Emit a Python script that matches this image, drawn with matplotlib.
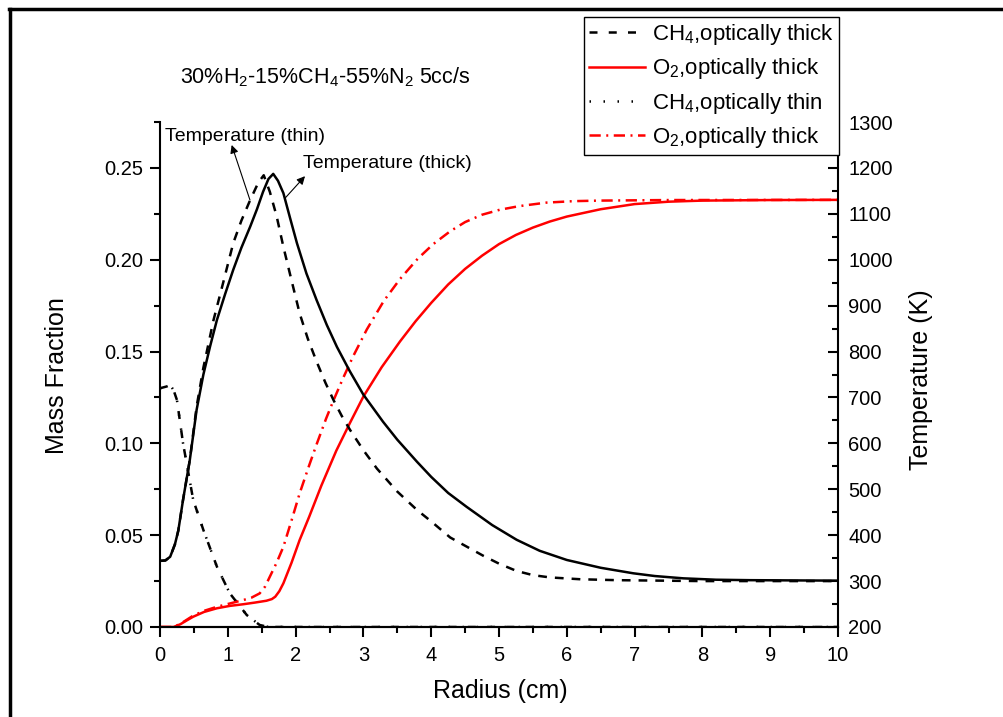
import matplotlib
matplotlib.use("Agg")
import matplotlib.pyplot as plt
from matplotlib.lines import Line2D
from matplotlib.ticker import MultipleLocator, FormatStrFormatter

plt.rcParams['font.family'] = ['Liberation Sans', 'DejaVu Sans']
plt.rcParams['mathtext.fontset'] = 'custom'
plt.rcParams['mathtext.rm'] = 'Liberation Sans'
plt.rcParams['mathtext.it'] = 'Liberation Sans:italic'
plt.rcParams['mathtext.bf'] = 'Liberation Sans:bold'

# ---------------- data ----------------
r_ch4 = [0.0, 0.1, 0.15, 0.2, 0.25, 0.34, 0.49, 0.64, 0.84, 1.03, 1.28, 1.47, 1.6, 10.0]
ch4_thick = [0.130, 0.131, 0.1318, 0.129, 0.1236, 0.100, 0.0692, 0.0528, 0.0328, 0.0183, 0.0065, 0.0011, 0.0, 0.0]
ch4_thin = [0.130, 0.131, 0.1318, 0.129, 0.1236, 0.100, 0.0692, 0.0528, 0.0328, 0.0183, 0.0065, 0.0011, 0.0, 0.0]

r_o2_thick = [0.0, 0.2, 0.3, 0.4, 0.49, 0.65, 0.84, 1.03, 1.23, 1.4, 1.57, 1.65, 1.70, 1.76, 1.82,
              1.94, 2.06, 2.2, 2.38, 2.6, 2.8, 3.0, 3.27, 3.54, 3.77, 4.0, 4.25, 4.5, 4.75,
              5.0, 5.25, 5.5, 5.75, 6.0, 6.5, 7.0, 7.5, 8.0, 9.0, 10.0]
o2_thick = [0.0, 0.0, 0.0015, 0.0037, 0.0056, 0.0082, 0.0102, 0.0115, 0.0124, 0.0133, 0.0143,
            0.0152, 0.0165, 0.0195, 0.0238, 0.035, 0.0474, 0.060, 0.077, 0.096, 0.111, 0.1255,
            0.1415, 0.1555, 0.1665, 0.1765, 0.1865, 0.1950, 0.2022, 0.2085, 0.2135, 0.2175,
            0.2208, 0.2235, 0.2275, 0.2303, 0.2316, 0.2322, 0.2325, 0.2326]

r_o2_thin = [0.0, 0.2, 0.3, 0.49, 0.65, 0.84, 1.03, 1.23, 1.35, 1.47, 1.55, 1.62, 1.72, 1.82,
             1.94, 2.06, 2.2, 2.31, 2.45, 2.56, 2.70, 2.85, 3.05, 3.3, 3.54, 3.8, 4.03, 4.28,
             4.5, 4.75, 5.01, 5.3, 5.7, 6.1, 6.49, 7.5, 10.0]
o2_thin = [0.0, 0.0, 0.0017, 0.0062, 0.0088, 0.011, 0.0128, 0.0147, 0.016, 0.0183, 0.022,
           0.0274, 0.035, 0.0437, 0.058, 0.0728, 0.088, 0.0995, 0.1135, 0.1235, 0.1355, 0.1475,
           0.1620, 0.1775, 0.1895, 0.2005, 0.2085, 0.2155, 0.2205, 0.2245, 0.2272, 0.2292,
           0.2311, 0.2319, 0.2322, 0.2325, 0.2326]

r_T_thick = [0.0, 0.08, 0.15, 0.22, 0.27, 0.34, 0.44, 0.54, 0.64, 0.74, 0.84, 0.96, 1.08, 1.2,
             1.33, 1.43, 1.52, 1.60, 1.67, 1.74, 1.82, 1.92, 2.02, 2.16, 2.31, 2.46, 2.61,
             2.8, 3.0, 3.29, 3.5, 3.79, 4.0, 4.25, 4.52, 4.9, 5.26, 5.6, 6.0, 6.5, 6.98,
             7.3, 7.72, 8.2, 8.7, 10.0]
T_thick = [344, 345, 353, 380, 410, 477, 564, 673, 750, 812, 869, 925, 978, 1026,
           1072, 1110, 1148, 1176, 1187, 1172, 1145, 1090, 1036, 970, 912, 858, 810,
           757, 706, 647, 608, 560, 527, 492, 462, 422, 390, 366, 346, 329, 317,
           311, 306, 303, 302, 301]

r_T_thin = [0.0, 0.08, 0.15, 0.22, 0.27, 0.34, 0.44, 0.54, 0.64, 0.79, 0.93, 1.08, 1.2, 1.33,
            1.45, 1.53, 1.62, 1.72, 1.82, 1.94, 2.06, 2.18, 2.31, 2.44, 2.56, 2.68, 2.80,
            3.0, 3.2, 3.5, 3.79, 4.0, 4.28, 4.5, 4.77, 5.0, 5.26, 5.5, 5.75, 6.2, 6.74,
            8.0, 10.0]
T_thin = [344, 345, 353, 380, 410, 477, 564, 680, 765, 869, 949, 1036, 1085, 1130,
          1168, 1184, 1148, 1095, 1028, 955, 883, 828, 778, 732, 694, 660, 630,
          585, 545, 495, 455, 430, 395, 377, 355, 338, 322, 313, 308, 304, 302,
          300, 300]

legend_labels = ["CH$_\\mathregular{4}$,optically thick",
                 "O$_\\mathregular{2}$,optically thick",
                 "CH$_\\mathregular{4}$,optically thin",
                 "O$_\\mathregular{2}$,optically thick"]
title_text = "30%H$_\\mathregular{2}$-15%CH$_\\mathregular{4}$-55%N$_\\mathregular{2}$ 5cc/s"

# ---------------- figure ----------------
W, H = 1004, 717
fig = plt.figure(figsize=(W / 100, H / 100), dpi=100)
ax = fig.add_axes([160 / W, 1 - 627 / H, (838 - 160) / W, (627 - 122) / H])
ax2 = ax.twinx()

lw = 1.8
l1, = ax.plot(r_ch4, ch4_thick, color='black', lw=lw, dashes=(3.2, 4.5))
l2, = ax.plot(r_o2_thick, o2_thick, color='red', lw=lw)
l3, = ax.plot(r_ch4, ch4_thin, color='black', lw=lw, dashes=(0.6, 5))
l4, = ax.plot(r_o2_thin, o2_thin, color='red', lw=lw, dashes=(4.5, 2.2, 0.8, 2.2))

ax2.plot(r_T_thick, T_thick, color='black', lw=lw)
ax2.plot(r_T_thin, T_thin, color='black', lw=lw, dashes=(3.5, 3.2))

ax.set_xlim(0, 10)
ax.set_ylim(0, 0.275)
ax2.set_ylim(200, 1300)

for a in (ax, ax2):
    a.spines['top'].set_visible(False)
    for s in a.spines.values():
        s.set_linewidth(1.5)
ax.spines['right'].set_visible(False)
ax2.spines['left'].set_visible(False)

ax.xaxis.set_major_locator(MultipleLocator(1))
ax.xaxis.set_minor_locator(MultipleLocator(0.5))
ax.yaxis.set_major_locator(MultipleLocator(0.05))
ax.yaxis.set_minor_locator(MultipleLocator(0.025))
ax.yaxis.set_major_formatter(FormatStrFormatter('%.2f'))
ax2.yaxis.set_major_locator(MultipleLocator(100))
ax2.yaxis.set_minor_locator(MultipleLocator(50))

ax.tick_params(axis='both', which='major', direction='out', length=7, width=1.5, labelsize=14.5)
ax.tick_params(axis='y', which='major', pad=5)
ax.tick_params(axis='x', which='major', pad=7)
ax.tick_params(axis='both', which='minor', direction='out', length=4, width=1.5)
ax2.tick_params(axis='y', which='major', direction='in', length=7, width=1.5, labelsize=14.5, pad=7.5)
ax2.tick_params(axis='y', which='minor', direction='in', length=4, width=1.5)

ax.set_xlabel("Radius (cm)", fontsize=18)
ax.set_ylabel("Mass Fraction", fontsize=18)
ax2.set_ylabel("Temperature (K)", fontsize=18)
for lab in (ax.xaxis.label, ax.yaxis.label, ax2.yaxis.label):
    lab.set_va('center')
    lab.set_ha('center')
ax.xaxis.set_label_coords((500 - 160) / (838 - 160), -(691 - 627) / (627 - 122))
ax.yaxis.set_label_coords(-(160 - 57) / (838 - 160), (627 - 376) / (627 - 122))
ax2.yaxis.set_label_coords((921 - 160) / (838 - 160), (627 - 380) / (627 - 122))

fig.text(325 / W, 1 - 83 / H, title_text, ha='center', va='baseline', fontsize=15.5)

# annotations (on temperature axis)
ax2.annotate("", xy=(1.057, 1250), xytext=(1.327, 1130),
             arrowprops=dict(arrowstyle='-|>', color='black', lw=0.8, mutation_scale=12,
                             shrinkA=0, shrinkB=0))
ax2.annotate("", xy=(2.139, 1182), xytext=(1.844, 1134),
             arrowprops=dict(arrowstyle='-|>', color='black', lw=0.8, mutation_scale=12,
                             shrinkA=0, shrinkB=0))
ax2.text(0.074, 1258, "Temperature (thin)", fontsize=14, ha='left', va='baseline')
ax2.text(2.109, 1200, "Temperature (thick)", fontsize=14, ha='left', va='baseline')

leg = ax2.legend([l1, l2, l3, l4], legend_labels, loc='upper right',
                 bbox_to_anchor=(839 / W, 1 - 17 / H), bbox_transform=fig.transFigure,
                 fontsize=16, frameon=True, fancybox=False, framealpha=1,
                 edgecolor='black', handlelength=2.5, handletextpad=0.3,
                 labelspacing=0.42, borderpad=0.23, borderaxespad=0)
leg.get_frame().set_linewidth(1.0)

# figure border lines (top and left)
fig.add_artist(Line2D([9 / W, 1.0], [1 - 9 / H, 1 - 9 / H], transform=fig.transFigure,
                      color='black', lw=2.5))
fig.add_artist(Line2D([10.5 / W, 10.5 / W], [1 - 9 / H, 0.0], transform=fig.transFigure,
                      color='black', lw=2.5))

fig.savefig("out.png", dpi=100)
